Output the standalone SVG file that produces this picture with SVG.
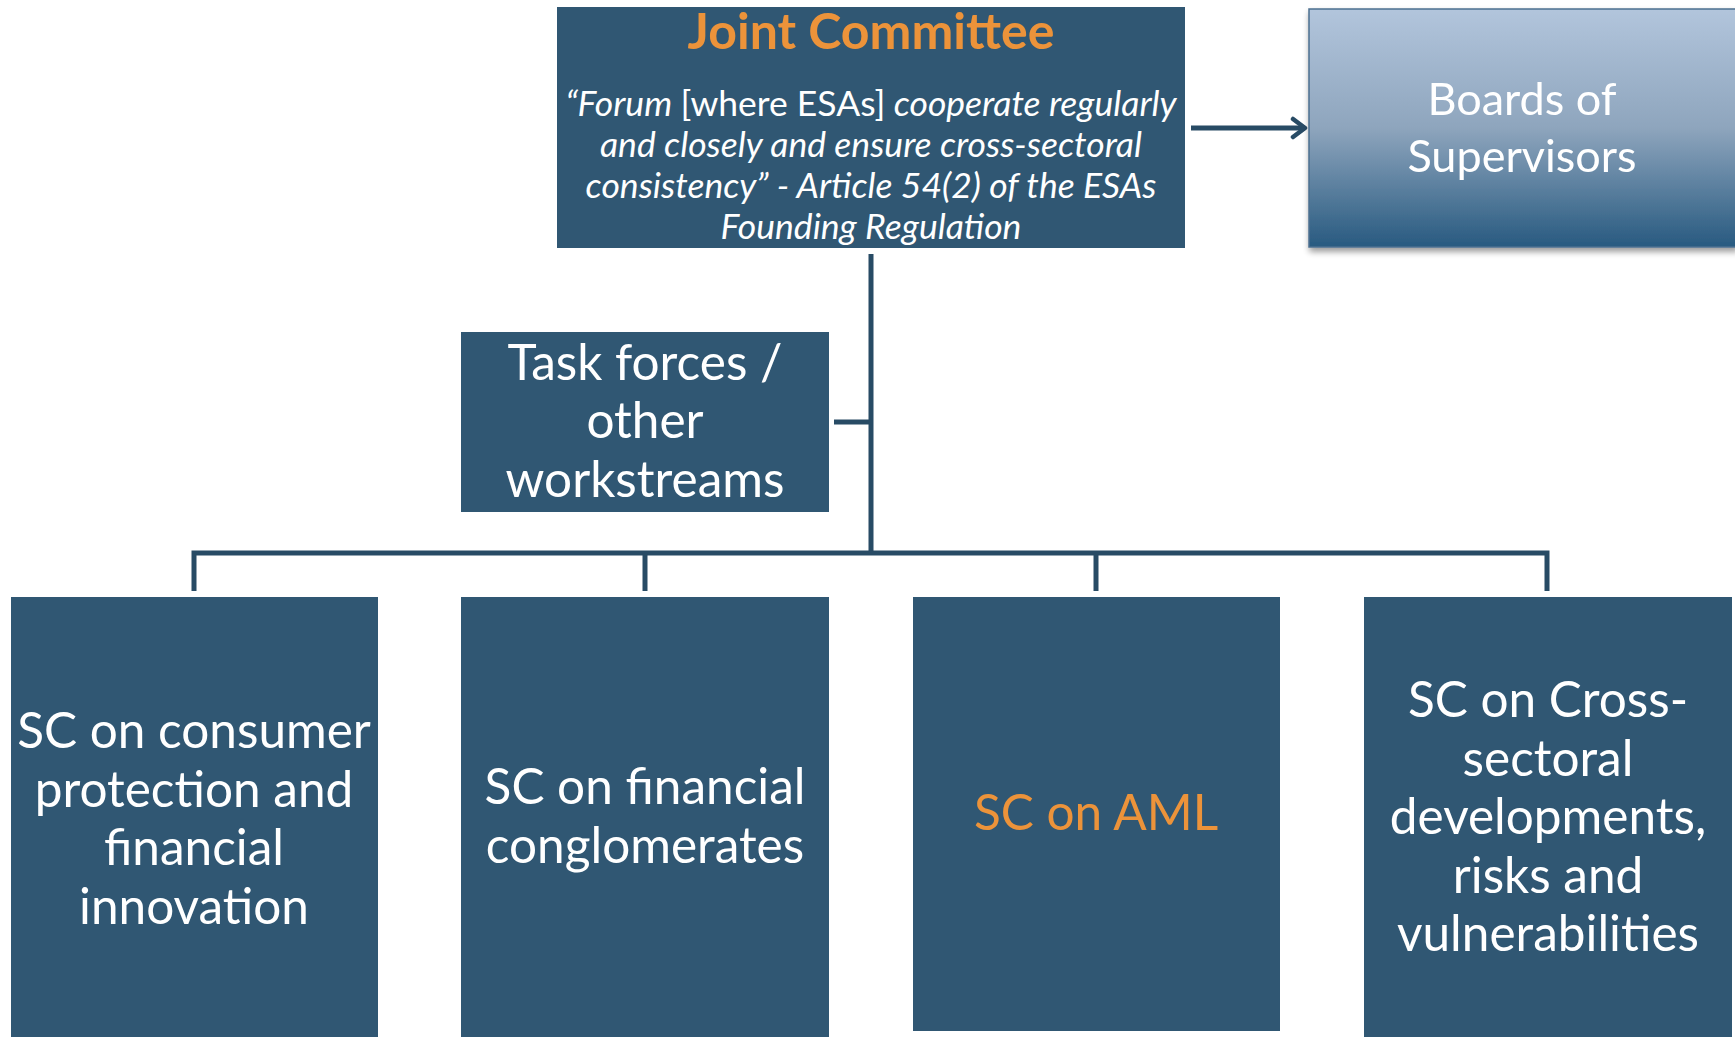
<svg xmlns="http://www.w3.org/2000/svg" width="1735" height="1037" viewBox="0 0 1735 1037">
<defs>
<style>
.box{fill:#305773;}
.t{font-family:Lato,"Open Sans","Liberation Sans",sans-serif;fill:#ffffff;text-anchor:middle;}
.big{font-size:49.5px;}
.it{font-size:35.5px;font-style:italic;}
.or{fill:#EC933A;}
.con{stroke:#284B65;stroke-width:5;fill:none;}
</style>
<linearGradient id="bg" x1="0" y1="0" x2="0" y2="1">
<stop offset="0" stop-color="#B2C5DC"/>
<stop offset="0.5" stop-color="#8EA5BD"/>
<stop offset="1" stop-color="#285A80"/>
</linearGradient>
<filter id="sh" x="-5%" y="-5%" width="115%" height="120%">
<feGaussianBlur in="SourceAlpha" stdDeviation="3"/>
<feOffset dx="1" dy="4" result="o"/>
<feComponentTransfer><feFuncA type="linear" slope="0.4"/></feComponentTransfer>
<feMerge><feMergeNode/><feMergeNode in="SourceGraphic"/></feMerge>
</filter>
<marker id="arr" viewBox="0 0 18 24" refX="15" refY="12" markerWidth="18" markerHeight="24" markerUnits="userSpaceOnUse" orient="auto">
<path d="M3,3 L15,12 L3,21" fill="none" stroke="#284B65" stroke-width="4.5" stroke-linecap="round" stroke-linejoin="round"/>
</marker>
</defs>
<rect width="1735" height="1037" fill="#ffffff"/>
<g id="connectors">
<line class="con" x1="1191" y1="128" x2="1305" y2="128" marker-end="url(#arr)"/>
<line class="con" x1="871" y1="254" x2="871" y2="555"/>
<line class="con" x1="834" y1="422" x2="871" y2="422"/>
<polyline class="con" points="194,591 194,553 1547,553 1547,591"/>
<line class="con" x1="645" y1="553" x2="645" y2="591"/>
<line class="con" x1="1096" y1="553" x2="1096" y2="591"/>
</g>
<g id="joint-committee">
<rect class="box" x="557" y="7" width="628" height="241"/>
<text class="t or" x="871" y="49" font-size="50" font-weight="bold">Joint Committee</text>
<text class="t it" x="871" y="116">“Forum <tspan font-style="normal">[where ESAs]</tspan> cooperate regularly</text>
<text class="t it" x="871" y="157">and closely and ensure cross-sectoral</text>
<text class="t it" x="871" y="198">consistency” - Article 54(2) of the ESAs</text>
<text class="t it" x="871" y="239">Founding Regulation</text>
</g>
<g id="boards" filter="url(#sh)">
<rect x="1309" y="9" width="428" height="238" fill="url(#bg)" stroke="#4C7090" stroke-width="1.5"/>
<text class="t" x="1522" y="115" font-size="45">Boards of</text>
<text class="t" x="1522" y="172" font-size="45">Supervisors</text>
</g>
<g id="task-forces">
<rect class="box" x="461" y="332" width="368" height="180"/>
<text class="t big" x="645" y="380">Task forces /</text>
<text class="t big" x="645" y="438">other</text>
<text class="t big" x="645" y="497">workstreams</text>
</g>
<g id="sc-consumer">
<rect class="box" x="11" y="597" width="367" height="445"/>
<text class="t big" x="194" y="748">SC on consumer</text>
<text class="t big" x="194" y="807">protection and</text>
<text class="t big" x="194" y="865">financial</text>
<text class="t big" x="194" y="924">innovation</text>
</g>
<g id="sc-conglomerates">
<rect class="box" x="461" y="597" width="368" height="445"/>
<text class="t big" x="645" y="804">SC on financial</text>
<text class="t big" x="645" y="863">conglomerates</text>
</g>
<g id="sc-aml">
<rect class="box" x="913" y="597" width="367" height="434"/>
<text class="t big or" x="1096" y="830">SC on AML</text>
</g>
<g id="sc-cross">
<rect class="box" x="1364" y="597" width="368" height="445"/>
<text class="t big" x="1548" y="717">SC on Cross-</text>
<text class="t big" x="1548" y="776">sectoral</text>
<text class="t big" x="1548" y="834">developments,</text>
<text class="t big" x="1548" y="893">risks and</text>
<text class="t big" x="1548" y="951">vulnerabilities</text>
</g>
</svg>
